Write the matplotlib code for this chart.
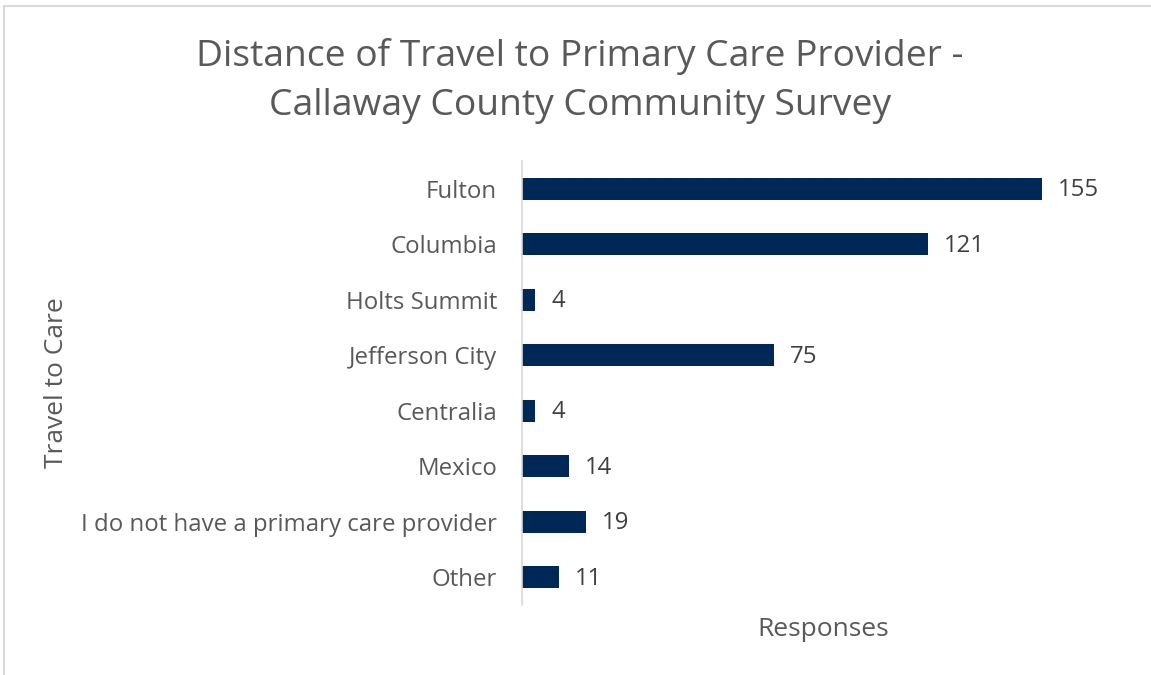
import matplotlib.pyplot as plt
from matplotlib.patches import Rectangle

plt.rcParams['font.family'] = ['Open Sans', 'DejaVu Sans']

# survey responses per destination
places = ['Fulton', 'Columbia', 'Holts Summit', 'Jefferson City', 'Centralia',
          'Mexico', 'I do not have a primary care provider', 'Other']
responses = [155, 121, 4, 75, 4, 14, 19, 11]

W, H = 1151, 675
fig = plt.figure(figsize=(W / 100, H / 100), dpi=100)

# light frame around the chart area
fig.patches.append(Rectangle((4 / W, -0.1), 1.2, (H - 6) / H + 0.1, transform=fig.transFigure,
                             fill=False, edgecolor='#d9d9d9', linewidth=1.5))

left, right, top, bottom = 522, 1110, 161, 605
ax = fig.add_axes([left / W, 1 - bottom / H, (right - left) / W, (bottom - top) / H])

y = list(range(len(places)))
ax.barh(y, responses, height=0.4, color='#002856')
ax.set_ylim(len(places) - 0.5, -0.5)
ax.set_xlim(0, (right - left) / (520 / 155))

for yi, v in zip(y, responses):
    ax.text(v + 4.8, yi + 0.03, str(v), va='center', ha='left', fontsize=17.3, color='#404040')

ax.set_yticks(y)
ax.set_yticklabels(places, fontsize=17.3, color='#595959')
ax.tick_params(axis='y', length=0, pad=18)
ax.set_xticks([])
for s in ['top', 'right', 'bottom']:
    ax.spines[s].set_visible(False)
ax.spines['left'].set_color('#d9d9d9')
ax.spines['left'].set_linewidth(1.2)

fig.text(580 / W, 1 - 81 / H, 'Distance of Travel to Primary Care Provider -\nCallaway County Community Survey',
         ha='center', va='center', fontsize=26.8, color='#595959', linespacing=1.45)
fig.text(823 / W, 1 - 629 / H, 'Responses', ha='center', va='center', fontsize=19, color='#595959')
fig.text(57 / W, 1 - 383 / H, 'Travel to Care', ha='center', va='center', rotation=90,
         fontsize=19, color='#595959')

fig.savefig('out.png', dpi=100)
